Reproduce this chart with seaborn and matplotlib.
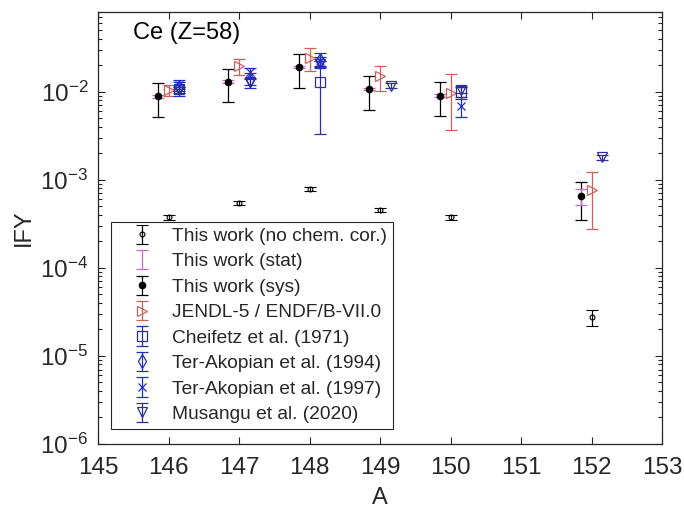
import numpy as np
import matplotlib
matplotlib.use("Agg")
import matplotlib.pyplot as plt
import seaborn as sns
from matplotlib.ticker import LogLocator, FixedLocator, LogFormatterSciNotation, NullFormatter

# Mass numbers
A_this = [146, 147, 148, 149, 150, 152]

# This work, no chemical correction
nochem_val = [3.73e-4, 5.43e-4, 7.83e-4, 4.52e-4, 3.73e-4, 2.75e-5]
nochem_err = [2.0e-5, 3.0e-5, 4.0e-5, 2.5e-5, 2.0e-5, 5.6e-6]

# This work, chemically corrected (statistical and systematic errors)
this_val = [8.85e-3, 1.29e-2, 1.89e-2, 1.07e-2, 9.0e-3, 6.46e-4]
stat_err = [3.0e-4, 5.0e-4, 6.0e-4, 4.0e-4, 3.0e-4, 1.3e-4]
sys_err = [3.7e-3, 5.3e-3, 7.9e-3, 4.5e-3, 3.7e-3, 3.0e-4]

# Evaluated library
A_jendl = [146, 147, 148, 149, 150, 152]
jendl_val = [1.03e-2, 1.95e-2, 2.42e-2, 1.49e-2, 9.66e-3, 7.56e-4]
jendl_err = [1.45e-3, 3.9e-3, 7.0e-3, 4.7e-3, 6.0e-3, 4.8e-4]

# Literature data
A_chei = [146, 148, 150]
chei_val = [1.08e-2, 1.28e-2, 1.0e-2]
chei_err = [6.0e-4, 9.5e-3, 1.7e-3]

A_ta94 = [146, 147, 148]
ta94_val = [1.12e-2, 1.37e-2, 2.3e-2]
ta94_err = [2.2e-3, 2.7e-3, 4.5e-3]

A_ta97 = [146, 147, 148, 150]
ta97_val = [1.18e-2, 1.65e-2, 2.2e-2, 6.9e-3]
ta97_err = [1.0e-3, 2.2e-3, 2.5e-3, 1.8e-3]

A_mus = [146, 147, 148, 149, 150, 152]
mus_val = [1.05e-2, 1.3e-2, 2.05e-2, 1.17e-2, 1.05e-2, 1.81e-3]
mus_err = [8.0e-4, 1.0e-3, 1.5e-3, 8.0e-4, 8.0e-4, 1.2e-4]

x_ticks = [145, 146, 147, 148, 149, 150, 151, 152, 153]

sns.set_theme(style="ticks")
plt.rcParams["font.family"] = ["Liberation Sans", "DejaVu Sans"]
plt.rcParams["mathtext.fontset"] = "custom"
plt.rcParams["mathtext.rm"] = "Liberation Sans"
plt.rcParams["mathtext.it"] = "Liberation Sans:italic"
plt.rcParams["mathtext.bf"] = "Liberation Sans:bold"

fig = plt.figure(figsize=(6.84, 5.13), dpi=100)
ax = fig.add_axes([0.1433, 0.1345, 0.8246, 0.8421])

shift = 0.15
a_this = np.array(A_this, dtype=float)

blue_dark = "#2e2e9a"
blue_bright = "#1f2fc8"
red = "#d0605c"
magenta = "#cc66cc"

common = dict(linestyle="none", elinewidth=0.9, capthick=0.9)

h_nochem = ax.errorbar(a_this, nochem_val, yerr=nochem_err, fmt="o", ms=3.5,
                       mfc="none", mec="black", mew=0.8, color="black",
                       capsize=4, **common)
h_sys = ax.errorbar(a_this - shift, this_val, yerr=sys_err, fmt="o", ms=4.5,
                    mfc="black", mec="black", color="black", capsize=4.5,
                    **common)
h_stat = ax.errorbar(a_this - shift, this_val, yerr=stat_err, fmt="none",
                     color=magenta, capsize=4.5, **common)
h_jendl = ax.errorbar(np.array(A_jendl, float), jendl_val, yerr=jendl_err,
                      fmt=">", ms=7.5, mfc="none", mec=red, mew=0.9,
                      color=red, capsize=4.5, **common)
h_chei = ax.errorbar(np.array(A_chei, float) + shift, chei_val, yerr=chei_err,
                     fmt="s", ms=7, mfc="none", mec=blue_dark, mew=0.9,
                     color=blue_dark, capsize=4, **common)
h_ta94 = ax.errorbar(np.array(A_ta94, float) + shift, ta94_val, yerr=ta94_err,
                     fmt="d", ms=7.5, mfc="none", mec=blue_bright, mew=0.9,
                     color=blue_bright, capsize=4, **common)
h_ta97 = ax.errorbar(np.array(A_ta97, float) + shift, ta97_val, yerr=ta97_err,
                     fmt="x", ms=6, mec=blue_bright, mew=0.9,
                     color=blue_bright, capsize=4, **common)
h_mus = ax.errorbar(np.array(A_mus, float) + shift, mus_val, yerr=mus_err,
                    fmt="v", ms=7.5, mfc="none", mec=blue_dark, mew=0.9,
                    color=blue_dark, capsize=4, **common)

ax.set_yscale("log")
ax.set_xlim(145, 153)
ax.set_ylim(1e-6, 0.08)
ax.xaxis.set_major_locator(FixedLocator(x_ticks))
ax.yaxis.set_major_locator(LogLocator(base=10, numticks=10))
ax.yaxis.set_minor_locator(LogLocator(base=10, subs=np.arange(2, 10), numticks=20))
ax.yaxis.set_major_formatter(LogFormatterSciNotation())
ax.yaxis.set_minor_formatter(NullFormatter())

ax.tick_params(which="both", direction="in", top=True, right=True,
               colors="#262626", labelcolor="#262626", width=0.8)
ax.tick_params(which="major", length=5, labelsize=17.5)
ax.tick_params(axis="x", which="major", pad=9)
ax.tick_params(axis="y", which="major", pad=7)
ax.tick_params(which="minor", length=3)
for s in ax.spines.values():
    s.set_color("#262626")
    s.set_linewidth(0.9)

ax.set_xlabel("A", fontsize=17, color="#262626", labelpad=6)
ax.set_ylabel("IFY", fontsize=17, color="#262626", labelpad=4)

ax.text(0.062, 0.951, "Ce (Z=58)", transform=ax.transAxes, fontsize=17,
        ha="left", va="center", color="black")

handles = [h_nochem, h_stat, h_sys, h_jendl, h_chei, h_ta94, h_ta97, h_mus]
labels = ["This work (no chem. cor.)", "This work (stat)", "This work (sys)",
          "JENDL-5 / ENDF/B-VII.0", "Cheifetz et al. (1971)",
          "Ter-Akopian et al. (1994)", "Ter-Akopian et al. (1997)",
          "Musangu et al. (2020)"]
leg = ax.legend(handles, labels, loc="lower left", bbox_to_anchor=(0.023, 0.035),
                borderaxespad=0, fontsize=13.8, frameon=True, fancybox=False,
                edgecolor="#262626", framealpha=1, handlelength=2.6,
                handletextpad=0.3, labelspacing=0.42, borderpad=0.3)
leg.get_frame().set_linewidth(0.8)

fig.savefig("out.png", dpi=100)
